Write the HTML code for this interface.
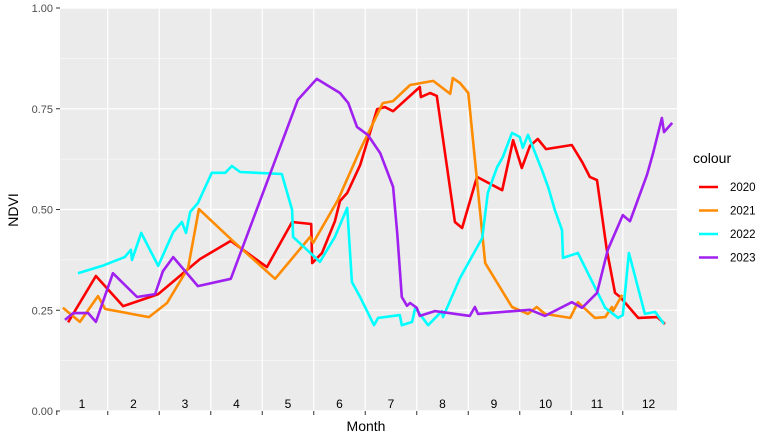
<!DOCTYPE html>
<html><head><meta charset="utf-8"><style>
body{margin:0;background:#fff;font-family:"Liberation Sans",sans-serif}
svg text{font-family:"Liberation Sans",sans-serif}
</style></head><body>
<svg id="chart" width="773" height="442" viewBox="0 0 773 442" xmlns="http://www.w3.org/2000/svg">
<rect x="0" y="0" width="773" height="442" fill="#fff"/>
<rect x="60" y="8" width="617" height="403" fill="#EBEBEB"/>
<g id="grid"></g><g id="series"></g><g id="axes"></g>
<text x="366" y="431" font-size="14" text-anchor="middle" fill="#000">Month</text>
<text transform="translate(18,210) rotate(-90)" font-size="14" text-anchor="middle" fill="#000">NDVI</text>
<g id="legend">
<text x="693" y="163" font-size="14" fill="#000">colour</text>
</g>
</svg>
<script>
const months=["1","2","3","4","5","6","7","8","9","10","11","12"];
const yTicks=[0,0.25,0.5,0.75,1];
const yTickLabels=["0.00","0.25","0.50","0.75","1.00"];
const seriesNames=["2020","2021","2022","2023"];
const seriesColors=["#FF0000","#FF8C00","#00FFFF","#A020F0"];
const x2020=[0.73,1.27,1.80,2.32,2.48,3.29,3.89,4.59,5.08,5.45,5.47,5.66,5.91,6.01,6.15,6.40,6.73,6.88,7.04,7.56,7.58,7.76,7.89,8.24,8.38,8.67,9.16,9.37,9.54,9.70,9.85,10.01,10.51,10.71,10.86,11.0,11.19,11.35,11.45,11.80,12.17,12.32];
const y2020=[0.22,0.335,0.26,0.283,0.29,0.377,0.422,0.357,0.469,0.464,0.367,0.392,0.471,0.521,0.541,0.610,0.749,0.754,0.744,0.804,0.779,0.789,0.782,0.469,0.454,0.581,0.548,0.672,0.603,0.658,0.675,0.650,0.660,0.618,0.581,0.573,0.40,0.293,0.283,0.231,0.233,0.216];
const x2021=[0.63,0.96,1.31,1.45,2.30,2.65,3.06,3.27,3.91,4.75,5.43,5.49,5.97,6.40,6.84,7.04,7.37,7.82,8.15,8.20,8.34,8.50,8.83,9.35,9.66,9.83,9.99,10.48,10.63,10.96,11.16,11.29,11.31,11.49];
const y2021=[0.256,0.221,0.285,0.253,0.233,0.268,0.355,0.501,0.424,0.328,0.432,0.417,0.524,0.648,0.764,0.769,0.809,0.819,0.787,0.826,0.814,0.789,0.367,0.258,0.241,0.258,0.241,0.231,0.270,0.231,0.233,0.258,0.248,0.288];
const x2022=[0.92,1.39,1.83,1.95,1.97,2.15,2.48,2.77,2.94,3.02,3.10,3.25,3.52,3.78,3.91,4.07,4.88,5.08,5.10,5.62,5.91,6.15,6.24,6.40,6.67,6.75,7.17,7.21,7.41,7.47,7.72,7.99,8.01,8.34,8.77,8.88,9.06,9.17,9.35,9.50,9.56,9.66,9.93,10.05,10.18,10.32,10.34,10.63,11.16,11.41,11.50,11.62,11.93,12.13,12.30];
const y2022=[0.342,0.360,0.382,0.40,0.375,0.442,0.360,0.444,0.469,0.442,0.494,0.516,0.591,0.591,0.608,0.593,0.588,0.499,0.432,0.370,0.432,0.504,0.320,0.283,0.213,0.231,0.238,0.213,0.221,0.256,0.213,0.248,0.233,0.330,0.429,0.541,0.605,0.630,0.690,0.680,0.653,0.685,0.598,0.556,0.499,0.449,0.380,0.392,0.256,0.231,0.238,0.392,0.241,0.246,0.216];
const x2023=[0.67,0.83,1.12,1.27,1.60,2.07,2.42,2.57,2.77,3.25,3.89,5.19,5.56,6.01,6.17,6.34,6.55,6.79,7.04,7.12,7.21,7.31,7.37,7.50,7.56,7.85,8.53,8.63,8.69,9.70,9.99,10.51,10.71,11.00,11.21,11.50,11.64,11.97,12.09,12.26,12.30,12.46];
const y2023=[0.226,0.243,0.243,0.221,0.342,0.283,0.290,0.347,0.382,0.310,0.328,0.772,0.824,0.789,0.764,0.705,0.685,0.640,0.556,0.442,0.283,0.261,0.268,0.256,0.236,0.248,0.236,0.258,0.241,0.251,0.236,0.270,0.256,0.293,0.40,0.486,0.471,0.586,0.640,0.727,0.692,0.715];
const xs=[x2020,x2021,x2022,x2023], ys=[y2020,y2021,y2022,y2023];
const NS="http://www.w3.org/2000/svg";
const X=m=>82+(m-1)*51.5;
const Y=v=>411-v*403;
function mk(tag,attrs,parent){const e=document.createElementNS(NS,tag);for(const k in attrs)e.setAttribute(k,attrs[k]);parent.appendChild(e);return e;}
const grid=document.getElementById('grid'),axes=document.getElementById('axes'),ser=document.getElementById('series');
// minor horizontal
for(let i=0;i<yTicks.length-1;i++){const v=(yTicks[i]+yTicks[i+1])/2;
 const l=mk('line',{x1:60,x2:677,y1:Y(v),y2:Y(v),stroke:'#fff','stroke-width':0.6},grid);
 
 }
yTicks.forEach((v,i)=>{
 const l=mk('line',{x1:60,x2:677,y1:Y(v),y2:Y(v),stroke:'#fff','stroke-width':1.2},grid);
 
 
 const t=mk('line',{x1:56,x2:60,y1:Y(v),y2:Y(v),stroke:'#333','stroke-width':1},axes);
 
 
 const tx=mk('text',{x:53,y:Y(v)+4,'font-size':11,'text-anchor':'end',fill:'#4D4D4D'},axes);
 tx.textContent=yTickLabels[i];
 
 
});
months.forEach((m,i)=>{
 const mv=i+1;
 if(i<months.length-1){
  const gx=X(mv+0.5);
  const l=mk('line',{x1:gx,x2:gx,y1:8,y2:411,stroke:'#fff','stroke-width':1.2},grid);
  
  
  const t=mk('line',{x1:gx,x2:gx,y1:411,y2:415,stroke:'#333','stroke-width':1},axes);
  
  
 }
 const tx=mk('text',{x:X(mv),y:408,'font-size':12,'text-anchor':'middle',fill:'#000'},axes);
 tx.textContent=m;
 
 
});
const t0=mk('line',{x1:X(0.5)+0.5,x2:X(0.5)+0.5,y1:411,y2:415,stroke:'#333'},axes);


seriesNames.forEach((n,s)=>{
 const pts=xs[s].map((x,i)=>X(x).toFixed(1)+','+Y(ys[s][i]).toFixed(1)).join(' ');
 const p=mk('polyline',{points:pts,fill:'none',stroke:seriesColors[s],'stroke-width':2.6,'stroke-linejoin':'round'},ser);
 
 
 const lg=document.getElementById('legend');
 const y=187+s*23.5;
 const kl=mk('line',{x1:699,x2:718,y1:y,y2:y,stroke:seriesColors[s],'stroke-width':2.6},lg);
 
 
 const kt=mk('text',{x:730,y:y+4,'font-size':11.5,fill:'#000'},lg);
 kt.textContent=n;
 
 
});
</script>
</body></html>
